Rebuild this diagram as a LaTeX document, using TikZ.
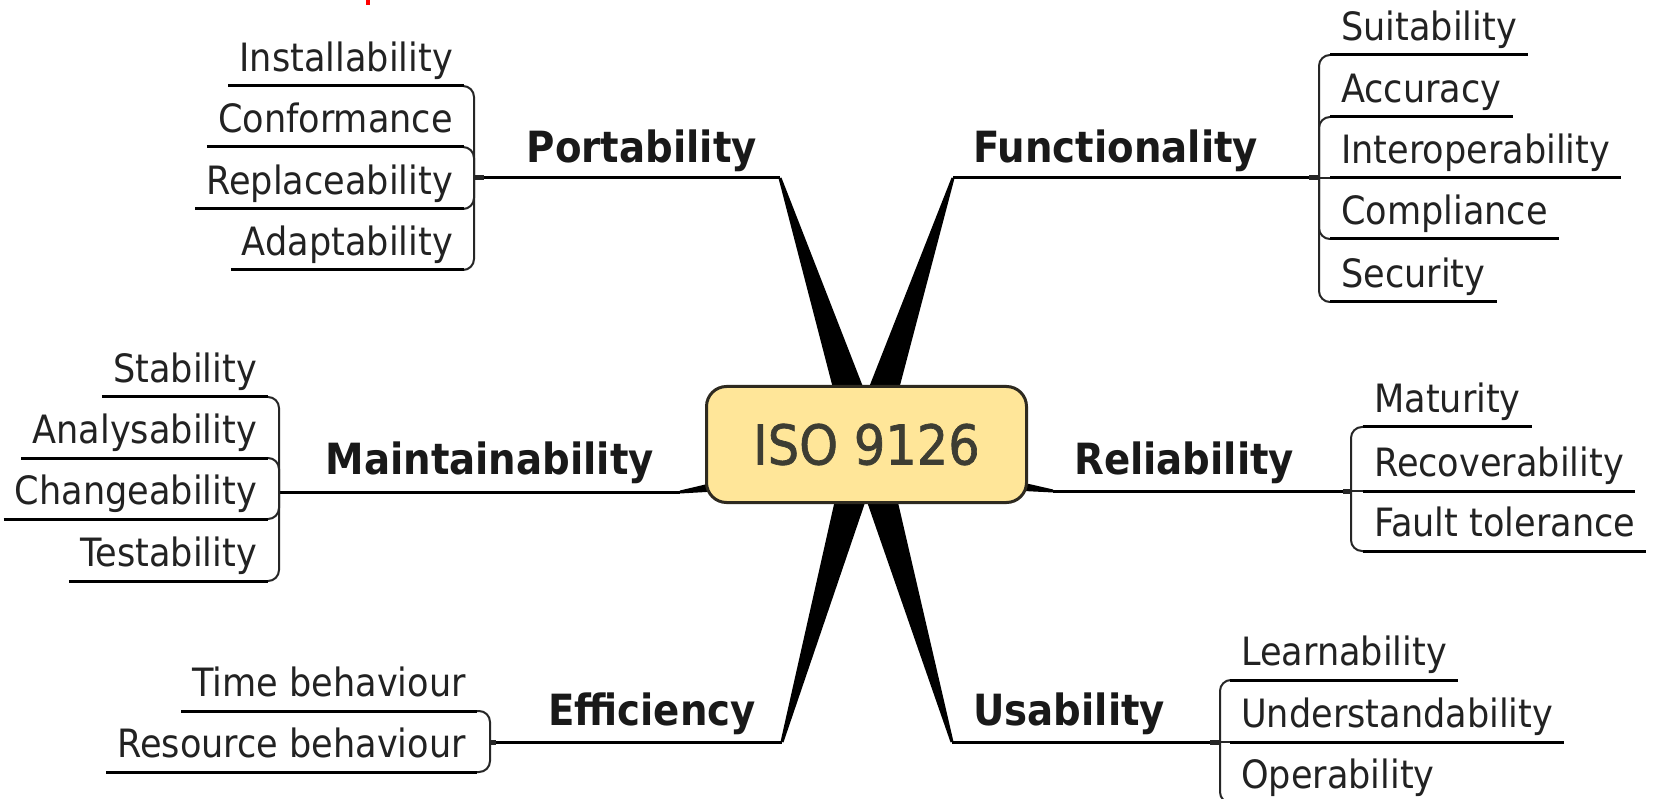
\documentclass[tikz,border=0pt]{standalone}
\usepackage{fontspec}
\setmainfont{DejaVu Sans}
\newfontfamily\mmfont{DejaVu Sans}[FakeStretch=0.9]
\newfontfamily\isofont{DejaVu Sans}[FakeStretch=0.9,FakeBold=1.2]
\usetikzlibrary{calc}
\definecolor{boxfill}{HTML}{FFE699}
\definecolor{boxline}{HTML}{2E2A20}
\definecolor{isotext}{HTML}{3D3D33}
\definecolor{subtext}{HTML}{222222}
\tikzset{
  subnode/.style={font=\mmfont\fontsize{39}{39}\selectfont, text=subtext, inner xsep=11pt, inner ysep=0pt, text depth=14pt, text height=30pt},
  topicnode/.style={font=\mmfont\bfseries\fontsize{43}{43}\selectfont, text=black!90, inner sep=0pt},
  branchline/.style={line width=3pt, black},
  underline/.style={line width=3pt, black},
  bracket/.style={line width=2pt, black!85, rounded corners=11pt},
  wedgefill/.style={fill=black},
  centerbox/.style={draw=boxline, fill=boxfill, line width=3pt, rounded corners=20pt, minimum width=320pt, minimum height=116pt, inner sep=0pt, font=\isofont\fontsize{55}{55}\selectfont, text=isotext},
  jmark/.style={fill=black!85}
}
\newcommand\mmwedge[2]{%
  \fill[wedgefill] ($(#1)!18pt!90:(#2)$) -- ($(#2)!1.5pt!-90:(#1)$) -- ($(#2)!1.5pt!90:(#1)$) -- ($(#1)!18pt!-90:(#2)$) -- cycle;}
\begin{document}
\begin{tikzpicture}[x=1pt,y=-1pt]
\useasboundingbox (0,0) rectangle (1655,799);
\clip (0,0) rectangle (1655,799);
\fill[white] (0,0) rectangle (1655,799);
\fill[red] (366,0) rectangle (370,5);

% wedge origins and tips
\coordinate (ctr) at (866,444);
\coordinate (ctrs) at (866,465);
\coordinate (tP) at (780,178);
\coordinate (tF) at (953,178);
\coordinate (tM) at (680,492);
\coordinate (tR) at (1053,491);
\coordinate (tE) at (782,742);
\coordinate (tU) at (952,742);
% bracket junctions
\coordinate (jP) at (474,178);
\coordinate (jF) at (1319,178);
\coordinate (jM) at (279,492);
\coordinate (jR) at (1351,491);
\coordinate (jE) at (490,742);
\coordinate (jU) at (1220,742);

\mmwedge{ctr}{tP}
\mmwedge{ctr}{tF}
\mmwedge{ctr}{tE}
\mmwedge{ctr}{tU}
\mmwedge{ctrs}{tM}
\mmwedge{ctrs}{tR}

\node[centerbox] (iso) at (866.5,444.5) {ISO 9126};

% branch lines
\draw[branchline] (jP) -- (tP);
\draw[branchline] (tF) -- (jF);
\draw[branchline] (jM) -- (tM);
\draw[branchline] (tR) -- (jR);
\draw[branchline] (jE) -- (tE);
\draw[branchline] (tU) -- (jU);

% topic labels
\node[topicnode, anchor=base east] (port) at (757,163) {Portability};
\node[topicnode, anchor=base west] (func) at (973,163) {Functionality};
\node[topicnode, anchor=base east] (maint) at (654,475) {Maintainability};
\node[topicnode, anchor=base west] (rel) at (1074,475) {Reliability};
\node[topicnode, anchor=base east] (eff) at (756,725) {Efficiency};
\node[topicnode, anchor=base west] (usa) at (973,725) {Usability};

% Portability
\node[subnode, anchor=south east] (p1) at (464,86) {Installability};
\node[subnode, anchor=south east] (p2) at (464,147) {Conformance};
\node[subnode, anchor=south east] (p3) at (464,209) {Replaceability};
\node[subnode, anchor=south east] (p4) at (464,270) {Adaptability};
\foreach \n in {p1,p2,p3,p4} {\draw[bracket] (jP) |- (\n.south);}
\foreach \n in {p1,p2,p3,p4} {\draw[underline] (\n.south west) -- (\n.south east);}
\fill[jmark] (474,175.5) rectangle (484,180.5);

% Functionality
\node[subnode, anchor=south west] (f1) at (1330,55) {Suitability};
\node[subnode, anchor=south west] (f2) at (1330,117) {Accuracy};
\node[subnode, anchor=south west] (f3) at (1330,178) {Interoperability};
\node[subnode, anchor=south west] (f4) at (1330,239) {Compliance};
\node[subnode, anchor=south west] (f5) at (1330,302) {Security};
\foreach \n in {f1,f2,f4,f5} {\draw[bracket] (jF) |- (\n.south);}
\draw[bracket] (jF) -- (f3.south);
\foreach \n in {f1,f2,f3,f4,f5} {\draw[underline] (\n.south west) -- (\n.south east);}
\fill[jmark] (1309,175.5) rectangle (1319,180.5);

% Maintainability
\node[subnode, anchor=south east] (m1) at (268,397) {Stability};
\node[subnode, anchor=south east] (m2) at (268,458) {Analysability};
\node[subnode, anchor=south east] (m3) at (268,519) {Changeability};
\node[subnode, anchor=south east] (m4) at (268,581) {Testability};
\foreach \n in {m1,m2,m3,m4} {\draw[bracket] (jM) |- (\n.south);}
\foreach \n in {m1,m2,m3,m4} {\draw[underline] (\n.south west) -- (\n.south east);}

% Reliability
\node[subnode, anchor=south west] (r1) at (1363,427) {Maturity};
\node[subnode, anchor=south west] (r2) at (1363,491) {Recoverability};
\node[subnode, anchor=south west] (r3) at (1363,551) {Fault tolerance};
\foreach \n in {r1,r3} {\draw[bracket] (jR) |- (\n.south);}
\draw[bracket] (jR) -- (r2.south);
\foreach \n in {r1,r2,r3} {\draw[underline] (\n.south west) -- (\n.south east);}
\fill[jmark] (1343,488.5) rectangle (1351,493.5);

% Efficiency
\node[subnode, anchor=south east] (e1) at (477,711) {Time behaviour};
\node[subnode, anchor=south east] (e2) at (477,772) {Resource behaviour};
\foreach \n in {e1,e2} {\draw[bracket] (jE) |- (\n.south);}
\foreach \n in {e1,e2} {\draw[underline] (\n.south west) -- (\n.south east);}
\fill[jmark] (490,739.5) rectangle (496,744.5);

% Usability
\node[subnode, anchor=south west] (u1) at (1230,680) {Learnability};
\node[subnode, anchor=south west] (u2) at (1230,742) {Understandability};
\node[subnode, anchor=south west] (u3) at (1230,803) {Operability};
\foreach \n in {u1,u3} {\draw[bracket] (jU) |- (\n.south);}
\draw[bracket] (jU) -- (u2.south);
\foreach \n in {u1,u2,u3} {\draw[underline] (\n.south west) -- (\n.south east);}
\fill[jmark] (1210,739.5) rectangle (1220,744.5);
\end{tikzpicture}
\end{document}
